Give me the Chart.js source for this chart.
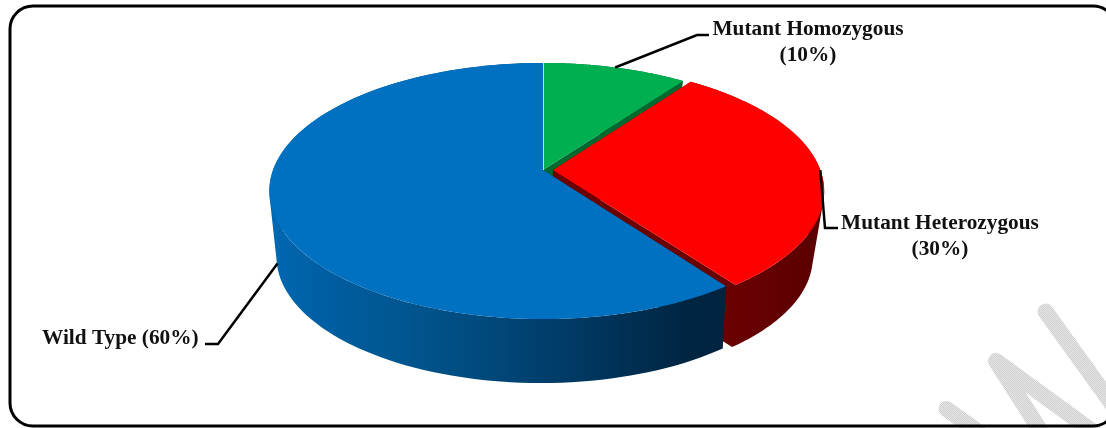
<!DOCTYPE html>
<html>
<head>
<meta charset="utf-8">
<style>
  html, body { margin: 0; padding: 0; background: #fff; }
  canvas { display: block; }
</style>
<script src="https://cdn.jsdelivr.net/npm/chart.js@4"></script>
</head>
<body>
<canvas id="pieChart" width="1106" height="428"></canvas>
<script>
// --- DATA ---
const categories = ['Mutant Homozygous', 'Mutant Heterozygous', 'Wild Type'];
const percentages = [10, 30, 60];
const sliceColors = ['#00B050', '#FF0000', '#0070C0'];
const sliceOffsets = [0, 10, 0];

// --- 3D PROJECTION ---
const RADIUS_X = 270;
const EXPLODED_SCALE = 0.99;
const TOP_PLANE = { x: 543, y: 170, k: 124.6, p: 0.164, s: 1 };
const BOTTOM_PLANE = { x: 541, y: 231.5, k: 126.25, p: 0.2, s: 0.96 };

function project(u, v, plane) {
    const w = 1 + plane.p * v;
    return [plane.x + plane.s * RADIUS_X * u / w, plane.y - plane.s * plane.k * v / w];
}

// --- LABELS & LEADERS ---
const labelBlocks = [
    { index: 0, lines: ['Mutant Homozygous', '(10%)'], x: 808, y: 35, align: 'center', wall: 0, path: [[697, 35], [709, 35]] },
    { index: 1, lines: ['Mutant Heterozygous', '(30%)'], x: 940, y: 229, align: 'center', wall: 0, path: [[825, 228], [838, 228]] },
    { index: 2, lines: ['Wild Type (60%)'], x: 42, y: 344, align: 'left', wall: 0.87, path: [[218, 344], [205, 344]] }
];
const LINE_HEIGHT = 26;

const watermark = [
    [[1045.5, 311.5], [1125, 422]],
    [[996, 361], [1110, 444]],
    [[996, 361], [1040, 430]],
    [[946.5, 409], [980, 433]]
];

function sliceGeometry(arc) {
    const { startAngle, endAngle } = arc.getProps(['startAngle', 'endAngle'], true);
    const a0 = startAngle + Math.PI / 2;
    const a1 = endAngle + Math.PI / 2;
    const mid = (a0 + a1) / 2;
    const off = (arc.options.offset || 0) / RADIUS_X;
    return { a0, a1, mid, r: off > 0 ? EXPLODED_SCALE : 1, ox: off * Math.sin(mid), oy: off * Math.cos(mid) };
}

function rim(g, a, plane) {
    return project(g.ox + g.r * Math.sin(a), g.oy + g.r * Math.cos(a), plane);
}

function drawTop(ctx, g, color) {
    const steps = 90;
    const [x, y] = project(g.ox, g.oy, TOP_PLANE);
    ctx.beginPath();
    ctx.moveTo(x, y);
    for (let i = 0; i <= steps; i++) {
        const [px, py] = rim(g, g.a0 + (g.a1 - g.a0) * i / steps, TOP_PLANE);
        ctx.lineTo(px, py);
    }
    ctx.closePath();
    ctx.fillStyle = color;
    ctx.fill();
}

// add a quad to the current path, always wound the same way so overlaps stay filled
function addQuad(ctx, pts) {
    let area = 0;
    pts.forEach((p, i) => {
        const q = pts[(i + 1) % pts.length];
        area += p[0] * q[1] - q[0] * p[1];
    });
    const ordered = area < 0 ? pts.slice().reverse() : pts;
    ctx.moveTo(ordered[0][0], ordered[0][1]);
    ordered.slice(1).forEach(p => ctx.lineTo(p[0], p[1]));
    ctx.closePath();
}

function drawWalls(ctx, g, fill) {
    const top = project(g.ox, g.oy, TOP_PLANE);
    const bottom = project(g.ox, g.oy, BOTTOM_PLANE);
    const steps = 120;
    ctx.fillStyle = fill;
    ctx.beginPath();
    // the two cut faces
    [g.a0, g.a1].forEach(a => {
        addQuad(ctx, [top, rim(g, a, TOP_PLANE), rim(g, a, BOTTOM_PLANE), bottom]);
    });
    // outer wall
    for (let i = 0; i < steps; i++) {
        const s = g.a0 + (g.a1 - g.a0) * i / steps;
        const e = g.a0 + (g.a1 - g.a0) * (i + 1) / steps;
        addQuad(ctx, [rim(g, s, TOP_PLANE), rim(g, e, TOP_PLANE), rim(g, e, BOTTOM_PLANE), rim(g, s, BOTTOM_PLANE)]);
    }
    ctx.fill('nonzero');
}

function wallFill(ctx, index) {
    if (index === 0) return '#00692F';
    if (index === 1) {
        const grad = ctx.createLinearGradient(722, 0, 825, 0);
        grad.addColorStop(0, '#6B0000');
        grad.addColorStop(1, '#5A0000');
        return grad;
    }
    const grad = ctx.createLinearGradient(270, 0, 726, 0);
    grad.addColorStop(0, '#0068B2');
    grad.addColorStop(0.15, '#005C9E');
    grad.addColorStop(0.3, '#00568F');
    grad.addColorStop(0.6, '#003F6D');
    grad.addColorStop(0.9, '#002643');
    grad.addColorStop(1, '#00233E');
    return grad;
}

function ditherPattern(ctx) {
    const tile = document.createElement('canvas');
    tile.width = 2;
    tile.height = 2;
    const t = tile.getContext('2d');
    t.fillStyle = '#E6E6E6';
    t.fillRect(0, 0, 2, 2);
    t.fillStyle = '#CFCFCF';
    t.fillRect(0, 0, 1, 1);
    t.fillRect(1, 1, 1, 1);
    return ctx.createPattern(tile, 'repeat');
}

const pie3d = {
    id: 'pie3d',
    beforeDatasetsDraw(chart) {
        const ctx = chart.ctx;
        ctx.save();
        ctx.lineCap = 'round';
        ctx.lineJoin = 'round';
        ctx.lineWidth = 16;
        ctx.strokeStyle = ditherPattern(ctx);
        ctx.beginPath();
        watermark.forEach(([a, b]) => {
            ctx.moveTo(a[0], a[1]);
            ctx.lineTo(b[0], b[1]);
        });
        ctx.stroke();
        ctx.restore();
    },
    beforeDatasetDraw(chart, args) {
        const ctx = chart.ctx;
        const arcs = args.meta.data;
        const geo = arcs.map(sliceGeometry);
        const colors = chart.data.datasets[0].backgroundColor;

        ctx.save();
        // back to front: green, red, blue walls, then the top faces
        [0, 1, 2].forEach(i => drawWalls(ctx, geo[i], wallFill(ctx, i)));
        [2, 0, 1].forEach(i => drawTop(ctx, geo[i], colors[i]));

        // pale seam on the left edge of the first slice
        const apex = project(0, 0, TOP_PLANE);
        const seam = rim(geo[0], geo[0].a0, TOP_PLANE);
        ctx.strokeStyle = 'rgba(255, 255, 255, 0.7)';
        ctx.lineWidth = 1;
        ctx.beginPath();
        ctx.moveTo(apex[0] + 0.5, apex[1]);
        ctx.lineTo(seam[0] + 0.5, seam[1]);
        ctx.stroke();

        // leader lines and labels
        ctx.strokeStyle = '#000';
        ctx.lineWidth = 2.5;
        ctx.fillStyle = '#111';
        ctx.font = 'bold 21.3px "Liberation Serif"';
        ctx.textBaseline = 'alphabetic';
        labelBlocks.forEach(block => {
            const g = geo[block.index];
            const t = rim(g, g.mid, TOP_PLANE);
            const b = rim(g, g.mid, BOTTOM_PLANE);
            ctx.beginPath();
            ctx.moveTo(t[0] + (b[0] - t[0]) * block.wall, t[1] + (b[1] - t[1]) * block.wall);
            block.path.forEach(([x, y]) => ctx.lineTo(x, y));
            ctx.stroke();
            ctx.textAlign = block.align;
            block.lines.forEach((line, i) => ctx.fillText(line, block.x, block.y + i * LINE_HEIGHT));
        });

        // frame, its right edge runs off the picture
        ctx.strokeStyle = '#000';
        ctx.lineWidth = 3;
        ctx.beginPath();
        ctx.roundRect(10, 6, 1106, 420, 23);
        ctx.stroke();
        ctx.restore();
        return false;
    }
};

new Chart(document.getElementById('pieChart').getContext('2d'), {
    type: 'pie',
    data: {
        labels: categories,
        datasets: [{
            data: percentages,
            backgroundColor: sliceColors,
            offset: sliceOffsets,
            borderWidth: 0
        }]
    },
    options: {
        responsive: false,
        animation: false,
        plugins: { legend: { display: false }, tooltip: { enabled: false } }
    },
    plugins: [pie3d]
});
</script>
</body>
</html>
